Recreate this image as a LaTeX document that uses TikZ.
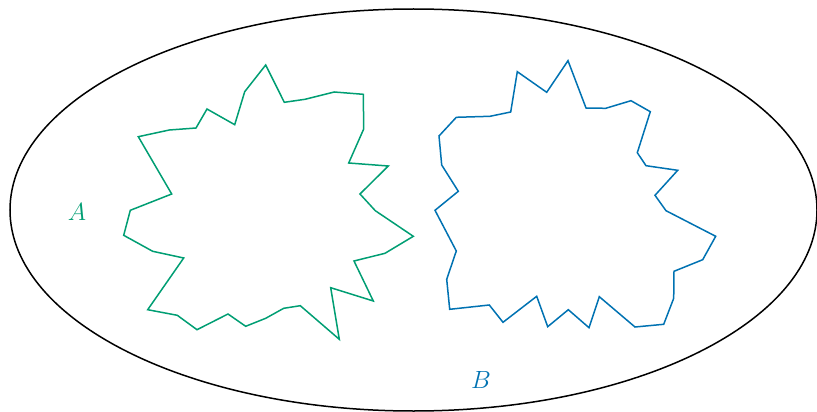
\documentclass[tikz,border=0pt]{standalone}
\definecolor{setgreen}{RGB}{0,158,115}
\definecolor{setblue}{RGB}{0,114,178}
\tikzset{
  blob/.style={line width=1.5pt, line join=miter},
  frame/.style={line width=1.5pt, black},
  setlabel/.style={font=\fontsize{25.5}{30}\selectfont, inner sep=0pt}
}
\begin{document}
\begin{tikzpicture}[x=1pt,y=-1pt]
\useasboundingbox (0,0) rectangle (817,412);
\draw[frame] (413.5,210) ellipse [x radius=403.5, y radius=201];
\draw[blob, setgreen] (265.7,65) -- (284.3,102.3) -- (305,99.3) -- (334.3,92) -- (363.3,94.3) -- (363.7,129) -- (348.7,163) -- (388.3,166) -- (360,194) -- (375.3,210.7) -- (413.3,236.3) -- (385,253.3) -- (354,261) -- (373.3,301) -- (330.7,287.7) -- (339.3,339.3) -- (300.3,305.7) -- (283.7,308.3) -- (265.7,318.3) -- (245.7,326.3) -- (228,314) -- (197,329.7) -- (177.3,315.3) -- (147.7,309.7) -- (183.7,258) -- (152.7,251.3) -- (123.7,235.3) -- (130.3,210.3) -- (171.7,194) -- (138.3,136.7) -- (169.3,130) -- (196,128) -- (207,109) -- (234.7,124.7) -- (244.7,91.7) -- cycle;
\draw[blob, setblue] (568,60.7) -- (586,108) -- (605.7,108.3) -- (631,100.7) -- (650.3,111.7) -- (637.3,152.7) -- (646,165.7) -- (677.7,170.3) -- (655,195.3) -- (666,210.7) -- (715.7,236.3) -- (702.7,259.7) -- (674,271.3) -- (673.7,298.3) -- (663.7,324.3) -- (635,327) -- (599.3,296.7) -- (589,327.7) -- (568.3,309.7) -- (547.7,326.7) -- (536.7,296.3) -- (503,322.3) -- (489.3,305) -- (449.7,309.3) -- (446.7,279.3) -- (456.3,251) -- (435,210.3) -- (458.3,191.3) -- (441.7,165) -- (439,136) -- (456.3,117.3) -- (490,116.3) -- (510.7,112) -- (517.3,71.7) -- (546.7,92.3) -- cycle;
\node[setlabel, text=setgreen] (labA) at (77,212) {$A$};
\node[setlabel, text=setblue] (labB) at (481,380) {$B$};
\end{tikzpicture}
\end{document}
